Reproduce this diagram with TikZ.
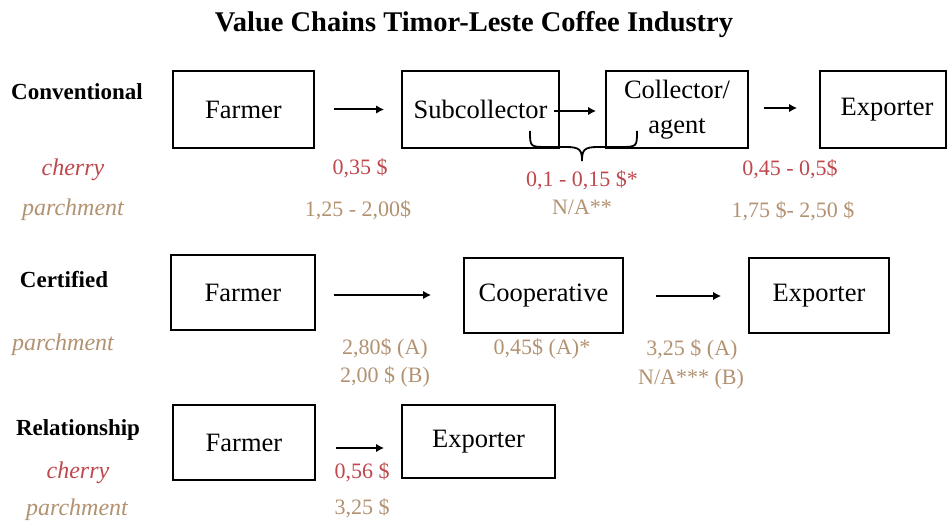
\documentclass[tikz,border=0pt]{standalone}
\usepackage{fontspec}
\setmainfont{Liberation Serif}
\usetikzlibrary{arrows.meta}
\definecolor{cherryred}{RGB}{190,72,76}
\definecolor{parchtan}{RGB}{178,146,113}
\begin{document}
\begin{tikzpicture}[x=1pt,y=-1pt,
  box/.style={draw, line width=1.8pt, inner sep=0pt, font=\fontsize{26.5}{35}\selectfont, align=center},
  txt/.style={inner sep=0pt, text height=0.66em, text depth=0pt, yshift=-4.5pt},
  rowlab/.style={txt, font=\fontsize{23}{27}\selectfont\bfseries},
  cat/.style={txt, font=\fontsize{24}{28}\selectfont\itshape},
  price/.style={txt, font=\fontsize{22}{26}\selectfont},
  arr/.style={line width=2pt, -{Latex[length=8pt,width=8.5pt]}}]
\useasboundingbox (0,0) rectangle (948,521);
% title
\node[txt, yshift=-1.5pt, font=\fontsize{28.5}{33}\selectfont\bfseries] (title) at (474,22) {Value Chains Timor-Leste Coffee Industry};
% row labels
\node[rowlab] (conv) at (77,92) {Conventional};
\node[rowlab] (cert) at (64,280) {Certified};
\node[rowlab] (rel) at (78,428) {Relationship};
\node[cat, text=cherryred] (ch1) at (73,168) {cherry};
\node[cat, text=parchtan] (pa1) at (73,208) {parchment};
\node[cat, text=parchtan] (pa2) at (63,343) {parchment};
\node[cat, text=cherryred] (ch3) at (78,471) {cherry};
\node[cat, text=parchtan] (pa3) at (77,508) {parchment};
% boxes row 1
\node[box, minimum width=141, minimum height=77] (f1) at (243.5,109.5) {Farmer};
\node[box, minimum width=157, minimum height=77] (s1) at (480.5,109.5) {Subcollector};
\node[box, minimum width=142, minimum height=77] (c1) at (677,109.5) {Collector/\\agent};
\node[box, minimum width=126, minimum height=77] (e1) at (883,109.5) {\hspace*{8pt}Exporter};
% boxes row 2
\node[box, minimum width=144, minimum height=75] (f2) at (243,292.5) {Farmer};
\node[box, minimum width=159, minimum height=75] (co2) at (543.5,295.5) {Cooperative};
\node[box, minimum width=140, minimum height=75] (e2) at (819,295.5) {Exporter};
% boxes row 3
\node[box, minimum width=142, minimum height=75] (f3) at (244,442.5) {Farmer};
\node[box, minimum width=153, minimum height=73] (e3) at (478.5,441.5) {Exporter};
% arrows
\draw[arr] ([xshift=19pt]f1.east) -- ([xshift=-17pt]s1.west);
\draw[arr] ([xshift=-6pt,yshift=-1.5pt]s1.east) -- ([xshift=-9pt,yshift=-1.5pt]c1.west);
\draw[arr] ([xshift=15pt,yshift=1.5pt]c1.east) -- ([xshift=-22pt,yshift=1.5pt]e1.west);
\draw[arr] ([xshift=18pt,yshift=-2.5pt]f2.east) -- ([xshift=-32pt,yshift=0.5pt]co2.west);
\draw[arr] ([xshift=32pt,yshift=-0.5pt]co2.east) -- ([xshift=-27pt,yshift=-0.5pt]e2.west);
\draw[arr] ([xshift=20pt,yshift=-5.5pt]f3.east) -- ([xshift=-17pt,yshift=-6.5pt]e3.west);
% brace
\coordinate (bl) at (530,131);
\coordinate (bt) at (582,161);
\coordinate (br) at (637,131);
\draw[line width=1.8pt] (bl) .. controls (530,147) and (530,147) .. (548,147) -- (566,147)
  .. controls (580,147) and (582,150) .. (bt)
  .. controls (582,150) and (584,147) .. (598,147) -- (619,147)
  .. controls (637,147) and (637,147) .. (br);
% prices row 1
\node[price, text=cherryred] (p1a) at (360,167) {0,35 \$};
\node[price, text=parchtan] (p1b) at (358,209) {1,25 - 2,00\$};
\node[price, text=cherryred] (p2a) at (582,179) {0,1 - 0,15 \$*};
\node[price, text=parchtan] (p2b) at (582,207) {N/A**};
\node[price, text=cherryred] (p3a) at (790,168) {0,45 - 0,5\$};
\node[price, text=parchtan] (p3b) at (793,210) {1,75 \$- 2,50 \$};
% prices row 2
\node[price, text=parchtan] (q1a) at (385,347) {2,80\$ (A)};
\node[price, text=parchtan] (q1b) at (385,375) {2,00 \$ (B)};
\node[price, text=parchtan] (q2a) at (542,347) {0,45\$ (A)*};
\node[price, text=parchtan] (q3a) at (692,348) {3,25 \$ (A)};
\node[price, text=parchtan] (q3b) at (691,377) {N/A*** (B)};
% prices row 3
\node[price, text=cherryred] (r1a) at (362,471) {0,56 \$};
\node[price, text=parchtan] (r1b) at (362,507) {3,25 \$};
\end{tikzpicture}
\end{document}
